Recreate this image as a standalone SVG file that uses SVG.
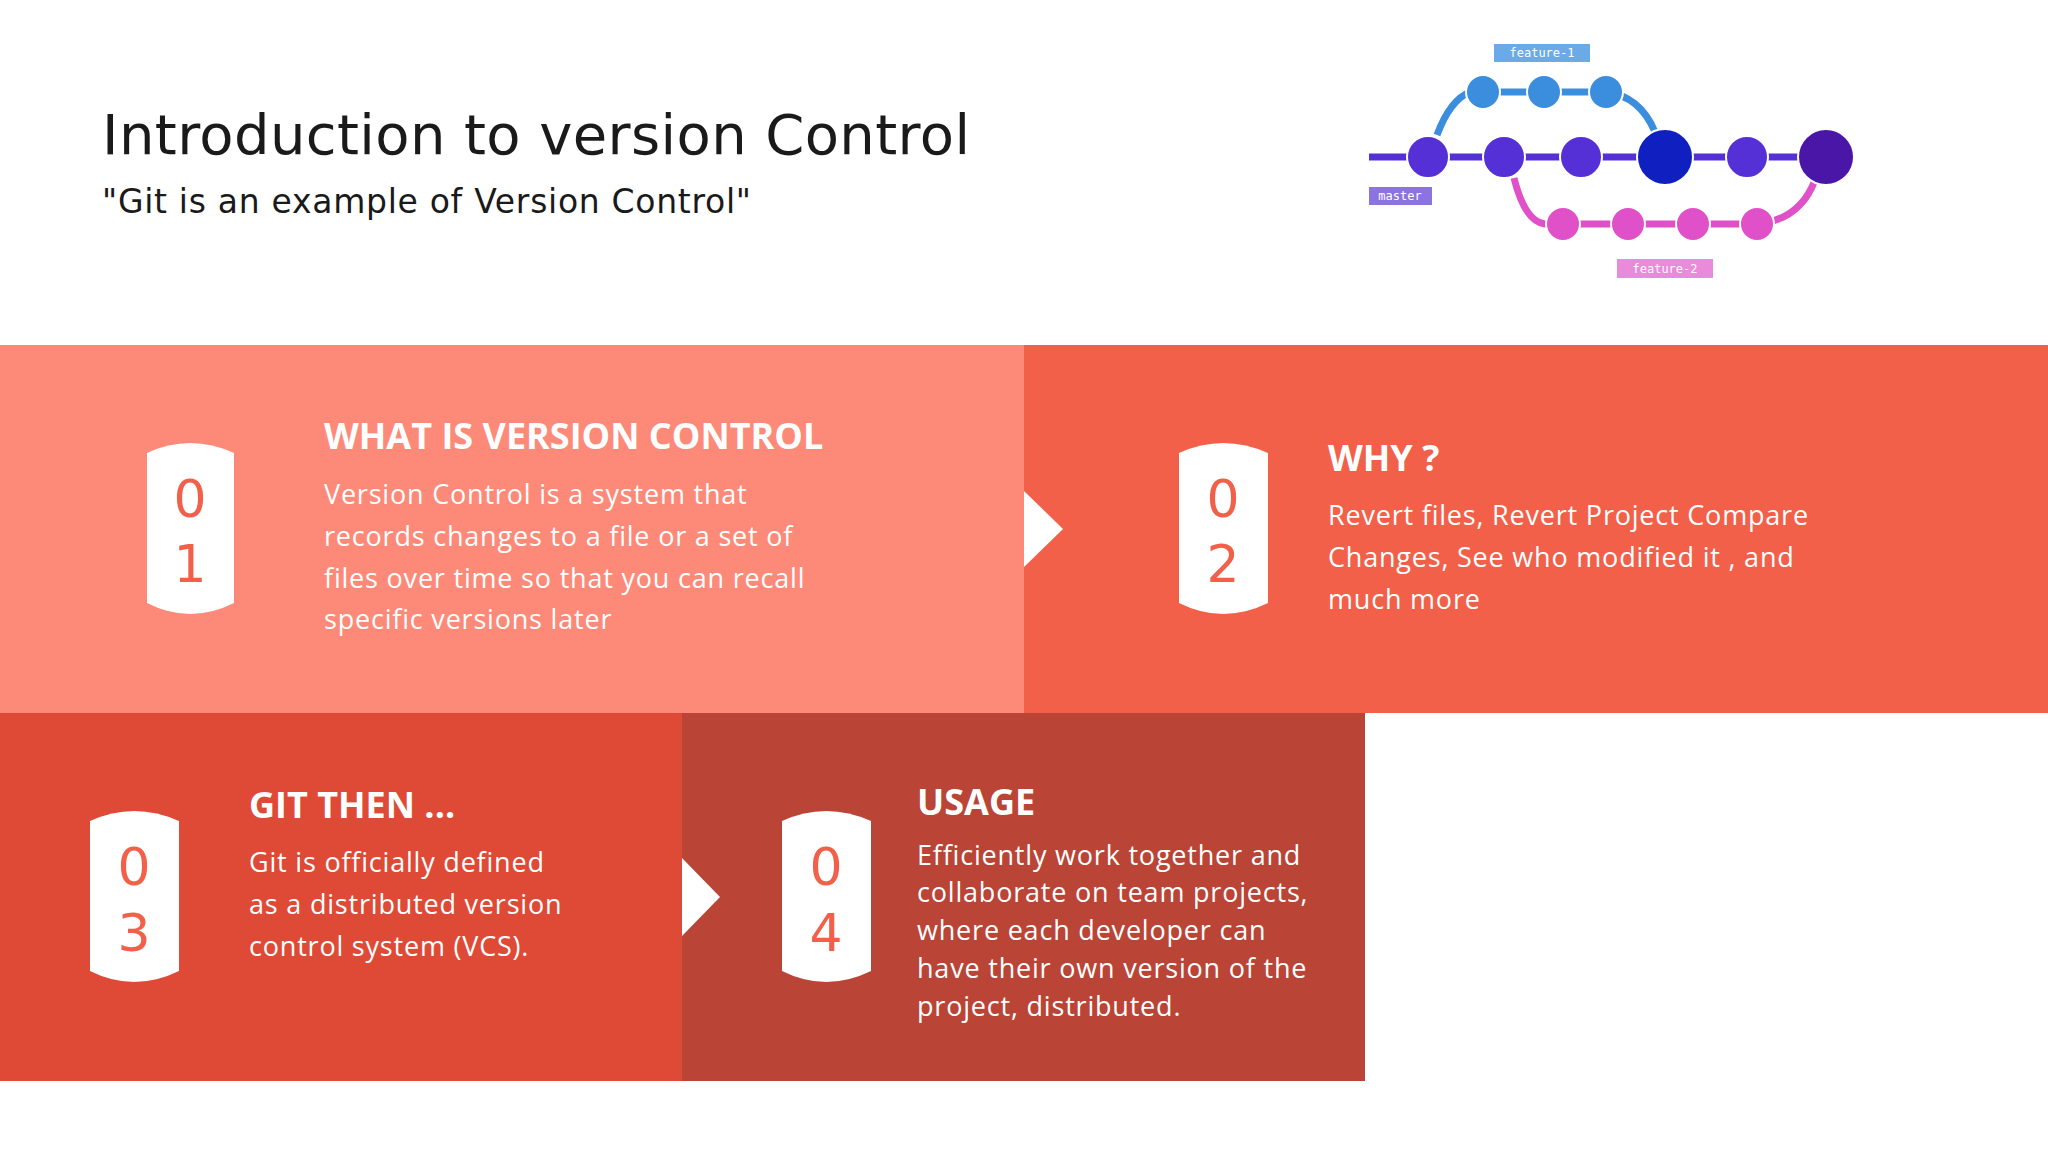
<svg xmlns="http://www.w3.org/2000/svg" width="2048" height="1152" viewBox="0 0 2048 1152">
<style>
.h{font-family:"Open Sans","DejaVu Sans",sans-serif;font-weight:700;fill:#fff;font-size:36px}
.b{font-family:"Open Sans","DejaVu Sans",sans-serif;fill:#fff;font-size:27px;letter-spacing:0.8px}
.d{font-family:"DejaVu Sans",sans-serif;fill:#F2604A;font-size:52px;text-anchor:middle}
.bd{fill:#fff}
.lab{font-family:"DejaVu Sans Mono",monospace;font-size:12px;fill:#fff;text-anchor:middle}
</style>
<rect width="2048" height="1152" fill="#fff"/>
<g id="title">
<text x="102" y="154" font-family="DejaVu Sans,sans-serif" font-size="56" fill="#1a1a1a" textLength="868">Introduction to version Control</text>
<text x="102" y="213" font-family="DejaVu Sans,sans-serif" font-size="33" fill="#1a1a1a" textLength="649">"Git is an example of Version Control"</text>
</g>
<g id="git-graph">
<g id="git-lines" fill="none" stroke-width="7">
<path d="M1369 157H1826" stroke="#5530D6"/>
<path d="M1437 135Q1450 100 1470 92H1606Q1640 96 1655 132" stroke="#3A8EDD"/>
<path d="M1514 178Q1525 222 1545 224H1757Q1800 220 1815 180" stroke="#E050C8"/>
</g>
<g stroke="#fff" stroke-width="2">
<circle cx="1428" cy="157" r="21" fill="#5530D6"/>
<circle cx="1504" cy="157" r="21" fill="#5530D6"/>
<circle cx="1581" cy="157" r="21" fill="#5530D6"/>
<circle cx="1665" cy="157" r="28" fill="#1020C0"/>
<circle cx="1747" cy="157" r="21" fill="#5530D6"/>
<circle cx="1826" cy="157" r="28" fill="#4A16A8"/>
<circle cx="1483" cy="92" r="17" fill="#3A8EDD"/>
<circle cx="1544" cy="92" r="17" fill="#3A8EDD"/>
<circle cx="1606" cy="92" r="17" fill="#3A8EDD"/>
<circle cx="1563" cy="224" r="17" fill="#E050C8"/>
<circle cx="1628" cy="224" r="17" fill="#E050C8"/>
<circle cx="1693" cy="224" r="17" fill="#E050C8"/>
<circle cx="1757" cy="224" r="17" fill="#E050C8"/>
</g>
<rect x="1494" y="44" width="96" height="18" fill="#6AAAE6"/>
<text x="1542" y="57" class="lab">feature-1</text>
<rect x="1369" y="187" width="63" height="18" fill="#8C74E0"/>
<text x="1400" y="200" class="lab">master</text>
<rect x="1617" y="259" width="96" height="19" fill="#E98ADA"/>
<text x="1665" y="273" class="lab">feature-2</text>
</g>
<g id="panels">
<rect x="0" y="345" width="1024" height="368" fill="#FD8A78"/>
<rect x="1024" y="345" width="1024" height="368" fill="#F2604A"/>
<rect x="0" y="713" width="682" height="368" fill="#DE4A36"/>
<rect x="682" y="713" width="683" height="368" fill="#BA4436"/>
</g>
<g id="connectors" fill="#fff">
<path d="M1024 491L1063 529L1024 567Z"/>
<path d="M682 858L720 897L682 936Z"/>
</g>
<g id="node1">
<path class="bd" d="M147 453Q190 433 234 453V603Q190 625 147 603Z"/>
<text class="d" x="190" y="517">0</text><text class="d" x="190" y="582">1</text>
<text class="h" x="324" y="449">WHAT IS VERSION CONTROL</text>
<text class="b" x="324" y="504">Version Control is a system that</text>
<text class="b" x="324" y="546">records changes to a file or a set of</text>
<text class="b" x="324" y="588">files over time so that you can recall</text>
<text class="b" x="324" y="629">specific versions later</text>
</g>
<g id="node2">
<path class="bd" d="M1179 453Q1223 433 1268 453V603Q1223 625 1179 603Z"/>
<text class="d" x="1223" y="517">0</text><text class="d" x="1223" y="582">2</text>
<text class="h" x="1328" y="471">WHY ?</text>
<text class="b" x="1328" y="525">Revert files, Revert Project Compare</text>
<text class="b" x="1328" y="567">Changes, See who modified it , and</text>
<text class="b" x="1328" y="609">much more</text>
</g>
<g id="node3">
<path class="bd" d="M90 821Q134 801 179 821V971Q134 993 90 971Z"/>
<text class="d" x="134" y="885">0</text><text class="d" x="134" y="951">3</text>
<text class="h" x="249" y="818">GIT THEN ...</text>
<text class="b" x="249" y="872">Git is officially defined</text>
<text class="b" x="249" y="914">as a distributed version</text>
<text class="b" x="249" y="956">control system (VCS).</text>
</g>
<g id="node4">
<path class="bd" d="M782 821Q826 801 871 821V971Q826 993 782 971Z"/>
<text class="d" x="826" y="885">0</text><text class="d" x="826" y="951">4</text>
<text class="h" x="917" y="815">USAGE</text>
<text class="b" x="917" y="865">Efficiently work together and</text>
<text class="b" x="917" y="902">collaborate on team projects,</text>
<text class="b" x="917" y="940">where each developer can</text>
<text class="b" x="917" y="978">have their own version of the</text>
<text class="b" x="917" y="1016">project, distributed.</text>
</g>
</svg>
